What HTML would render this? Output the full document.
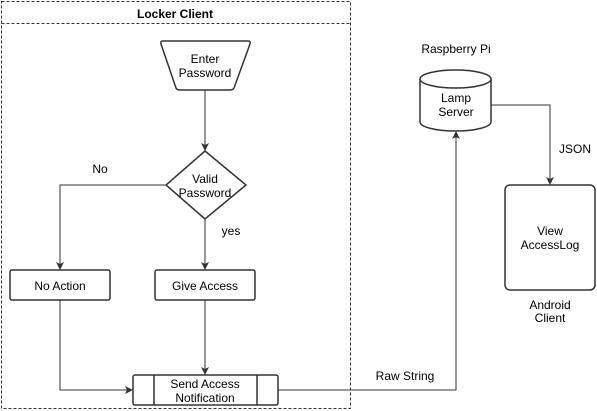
<!DOCTYPE html>
<html><head><style>body{margin:0;background:#fff}svg{display:block}text{font-family:"Liberation Sans",sans-serif;font-size:12px;fill:#000}</style></head><body>
<svg width="597" height="411" viewBox="0 0 597 411" xmlns="http://www.w3.org/2000/svg">
<defs><marker id="a" markerWidth="8" markerHeight="8" refX="7" refY="4" orient="auto" markerUnits="userSpaceOnUse"><path d="M0,0 L8,4 L0,8 L2,4 Z" fill="#333"/></marker></defs>
<g fill="none" stroke="#333" stroke-dasharray="3,2">
<rect x="1.5" y="1.5" width="349" height="407"/>
<line x1="1.5" y1="23.5" x2="350.5" y2="23.5"/>
</g>
<text x="175" y="18" text-anchor="middle" font-weight="bold">Locker Client</text>
<g fill="#fff" stroke="#333" stroke-width="1.5">
<path d="M163,41 L248,41 Q251,41 250,44 L234,88 Q233,90 230,90 L180,90 Q177,90 176,88 L161,44 Q160,41 163,41 Z"/>
<path d="M205,151 L246,185 L205,219 L166,185 Z"/>
<rect x="10" y="270" width="100" height="30" rx="2"/>
<rect x="155" y="270" width="100" height="30" rx="2"/>
<rect x="133" y="375" width="145" height="30" rx="2"/>
<line x1="154" y1="375" x2="154" y2="405"/><line x1="257" y1="375" x2="257" y2="405"/>
<path d="M420,79 A35.5,9 0 0 1 491,79 L491,122 A35.5,9 0 0 1 420,122 Z"/>
<path d="M420,79 A35.5,9 0 0 0 491,79"/>
<rect x="505" y="185" width="90" height="105" rx="5"/>
</g>
<g fill="none" stroke="#333" stroke-width="1">
<line x1="205" y1="90" x2="205" y2="150" marker-end="url(#a)"/>
<polyline points="166,185 60,185 60,269" marker-end="url(#a)"/>
<line x1="205" y1="219" x2="205" y2="269" marker-end="url(#a)"/>
<line x1="205" y1="300" x2="205" y2="374" marker-end="url(#a)"/>
<polyline points="60,300 60,390 132,390" marker-end="url(#a)"/>
<polyline points="278,390 456,390 456,132" marker-end="url(#a)"/>
<polyline points="491,105 550,105 550,184" marker-end="url(#a)"/>
</g>
<g text-anchor="middle">
<text x="205" y="63">Enter</text><text x="205" y="77">Password</text>
<text x="205" y="183">Valid</text><text x="205" y="197">Password</text>
<text x="100" y="173">No</text><text x="231" y="235">yes</text>
<text x="60" y="290">No Action</text><text x="205" y="290">Give Access</text>
<text x="205" y="388">Send Access</text><text x="205" y="402">Notification</text>
<text x="456" y="53">Raspberry Pi</text>
<text x="456" y="102">Lamp</text><text x="456" y="116">Server</text>
<text x="405" y="380">Raw String</text>
<text x="575" y="153">JSON</text>
<text x="550" y="235">View</text><text x="550" y="249">AccessLog</text>
<text x="550" y="309">Android</text><text x="550" y="322">Client</text>
</g>
</svg>
</body></html>
